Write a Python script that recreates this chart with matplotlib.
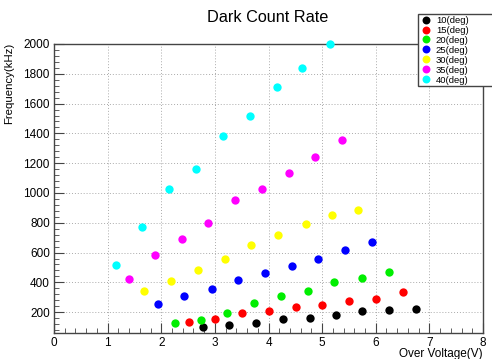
import matplotlib
matplotlib.use("Agg")
import matplotlib.pyplot as plt
from matplotlib.ticker import MultipleLocator

plt.rcParams['font.family'] = ['Liberation Sans', 'DejaVu Sans']

# data
labels = ["10(deg)", "15(deg)", "20(deg)", "25(deg)", "30(deg)", "35(deg)", "40(deg)"]
colors = ["#000000", "#ff0000", "#00ee00", "#0000ff", "#ffff00", "#ff00ff", "#00ffff"]

x10 = [2.78, 3.26, 3.76, 4.27, 4.77, 5.26, 5.75, 6.24, 6.75]
y10 = [97, 117, 124, 153, 158, 180, 209, 213, 218]
x15 = [2.51, 3.01, 3.51, 4.00, 4.51, 5.00, 5.50, 6.00, 6.50]
y15 = [135, 153, 191, 205, 236, 247, 272, 285, 334]
x20 = [2.25, 2.74, 3.23, 3.73, 4.24, 4.74, 5.23, 5.74, 6.24]
y20 = [128, 146, 195, 260, 309, 340, 400, 426, 469]
x25 = [1.94, 2.43, 2.94, 3.43, 3.93, 4.43, 4.93, 5.42, 5.93]
y25 = [252, 309, 354, 416, 463, 510, 556, 614, 668]
x30 = [1.68, 2.18, 2.69, 3.18, 3.68, 4.18, 4.69, 5.19, 5.67]
y30 = [339, 406, 484, 558, 649, 718, 789, 851, 887]
x35 = [1.39, 1.89, 2.38, 2.87, 3.38, 3.88, 4.38, 4.87, 5.37]
y35 = [422, 583, 688, 800, 954, 1026, 1137, 1239, 1355]
x40 = [1.15, 1.64, 2.15, 2.65, 3.15, 3.65, 4.15, 4.63, 5.14]
y40 = [516, 769, 1024, 1158, 1382, 1516, 1708, 1837, 2000]

xs = [x10, x15, x20, x25, x30, x35, x40]
ys = [y10, y15, y20, y25, y30, y35, y40]

fig = plt.figure(figsize=(4.92, 3.59), dpi=100)
ax = fig.add_axes([54/492, 1-333/359, (483-54)/492, (333-44)/359])

for i in range(len(labels)):
    ax.plot(xs[i], ys[i], 'o', color=colors[i], markersize=6, markeredgewidth=0,
            label=labels[i], clip_on=False, zorder=3)

ax.set_xlim(0, 8)
ax.set_ylim(60, 2000)
ax.xaxis.set_major_locator(MultipleLocator(1))
ax.xaxis.set_minor_locator(MultipleLocator(0.2))
ax.yaxis.set_major_locator(MultipleLocator(200))
ax.yaxis.set_minor_locator(MultipleLocator(40))
ax.tick_params(which='both', direction='in', labelsize=8.5, color='#444444')
ax.tick_params(which='major', length=7)
ax.tick_params(which='minor', length=3.5)
ax.tick_params(axis='x', pad=3)
ax.tick_params(axis='y', pad=3)
ax.grid(True, which='major', linestyle=(0, (1, 2)), color='#aaaaaa', linewidth=0.7)
for s in ax.spines.values():
    s.set_color('#444444')
    s.set_linewidth(1)

fig.text(268/492, 1-18/359, "Dark Count Rate", ha='center', va='center', fontsize=11.7)
fig.text(483/492, 1-354/359, "Over Voltage(V)", ha='right', va='center', fontsize=8.5)
fig.text(9/492, 1-43/359, "Frequency(kHz)", ha='center', va='top', rotation=90, fontsize=8.2)

leg = fig.legend(loc='upper left', bbox_to_anchor=(418/492, 1-87/359, 82/492, 73/359),
                 mode='expand', fontsize=6.8,
                 frameon=True, fancybox=False, edgecolor='#444444', framealpha=1,
                 borderpad=0.2, labelspacing=0.1, handletextpad=0.5, borderaxespad=0,
                 handlelength=1.2, markerscale=0.95)
leg.get_frame().set_linewidth(1)

fig.savefig("out.png", dpi=100)
